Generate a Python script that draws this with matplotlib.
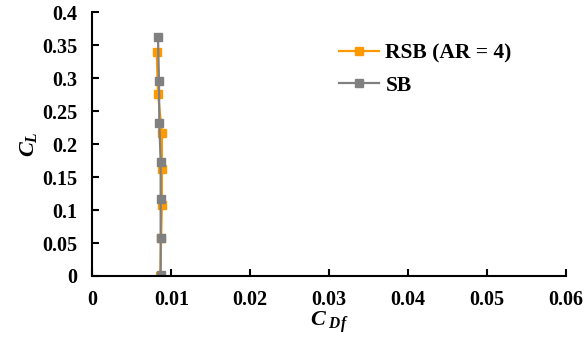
import matplotlib
matplotlib.use("Agg")
import matplotlib.pyplot as plt

# data
rsb_cd = [0.00814, 0.0083, 0.0088, 0.0088, 0.0088, 0.0087, 0.0086]
rsb_cl = [0.340, 0.277, 0.2175, 0.1624, 0.1078, 0.057, 0.0]
sb_cd = [0.0083, 0.00843, 0.00847, 0.00864, 0.00864, 0.00864, 0.00864]
sb_cl = [0.3633, 0.296, 0.2323, 0.173, 0.1164, 0.0577, 0.001]

xticks = [0, 0.01, 0.02, 0.03, 0.04, 0.05, 0.06]
xlabels = ["0", "0.01", "0.02", "0.03", "0.04", "0.05", "0.06"]
yticks = [0, 0.05, 0.1, 0.15, 0.2, 0.25, 0.3, 0.35, 0.4]
ylabels = ["0", "0.05", "0.1", "0.15", "0.2", "0.25", "0.3", "0.35", "0.4"]

plt.rcParams["font.family"] = "Liberation Serif"
plt.rcParams["font.weight"] = "bold"
plt.rcParams["mathtext.fontset"] = "custom"
plt.rcParams["mathtext.it"] = "Liberation Serif:italic:bold"
plt.rcParams["mathtext.rm"] = "Liberation Serif:bold"

fig = plt.figure(figsize=(5.86, 3.51), dpi=100)
ax = fig.add_axes([0.1578, 0.2137, 0.808, 0.7507])

ax.plot(rsb_cd, rsb_cl, color="#FF9900", marker="s", markersize=5.5, lw=1.6,
        label="RSB (AR = 4)")
ax.plot(sb_cd, sb_cl, color="#808080", marker="s", markersize=5.5, lw=1.6,
        label="SB")

ax.set_xlim(0, 0.06)
ax.set_ylim(0, 0.4)
ax.set_xticks(xticks)
ax.set_xticklabels(xlabels)
ax.set_yticks(yticks)
ax.set_yticklabels(ylabels)
ax.tick_params(direction="in", labelsize=14.5, width=1.5, length=5)
ax.tick_params(axis="x", pad=10)
ax.tick_params(axis="y", pad=11)
for s in ["top", "right"]:
    ax.spines[s].set_visible(False)
for s in ["left", "bottom"]:
    ax.spines[s].set_linewidth(1.5)

ax.set_xlabel("$C_{\\ Df}$", fontsize=16, labelpad=0)
ax.set_ylabel("$C_L$", fontsize=16, labelpad=2)

ax.legend(loc="upper left", bbox_to_anchor=(0.48, 0.955), frameon=False,
          fontsize=15.5, handlelength=1.85, labelspacing=0.55, handletextpad=0.3)

fig.savefig("out.png", dpi=100)
